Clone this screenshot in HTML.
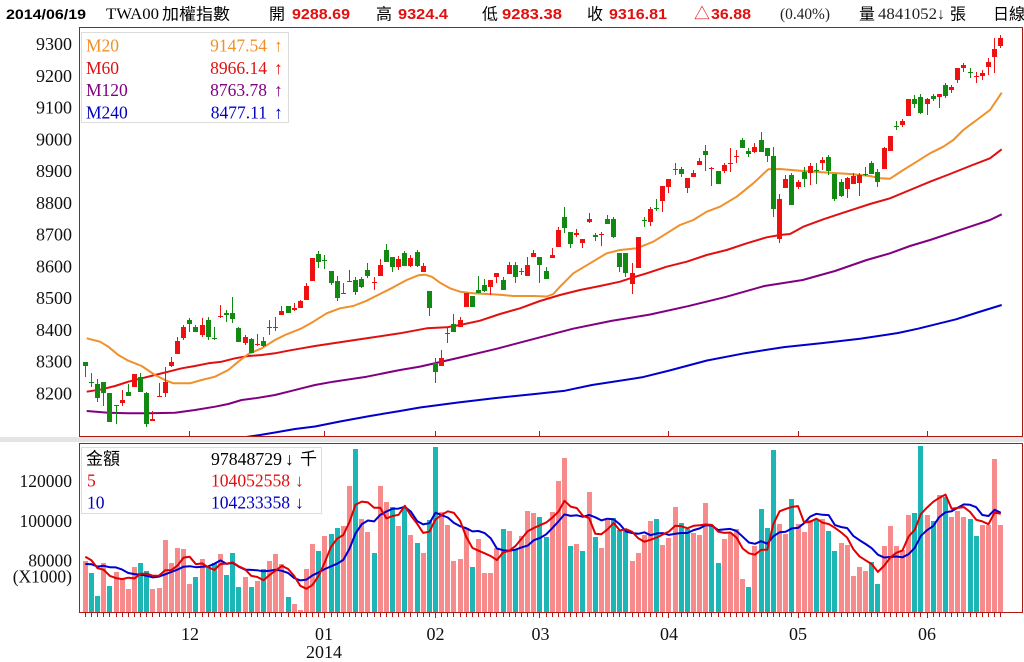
<!DOCTYPE html>
<html><head><meta charset="utf-8">
<style>
html,body{margin:0;padding:0;background:#fff;}
svg{display:block;}
.s{font-family:"Liberation Serif","Noto Serif CJK SC",serif;}
.b{font-family:"Liberation Sans","Noto Sans CJK TC",sans-serif;font-weight:bold;}
.c{font-family:"Liberation Sans","Noto Sans CJK TC",sans-serif;}
</style></head>
<body>
<svg id="s" width="1024" height="662" xmlns="http://www.w3.org/2000/svg">
<defs>
<clipPath id="cm"><rect x="80" y="28" width="942" height="408"/></clipPath>
<clipPath id="cv"><rect x="80" y="444" width="942" height="168"/></clipPath>
</defs>
<rect x="0" y="0" width="1024" height="662" fill="#fff"/>
<!-- header -->
<text x="6" y="19" class="b" font-size="14" textLength="80" lengthAdjust="spacingAndGlyphs" fill="#000">2014/06/19</text>
<text x="106" y="19" class="s" font-size="16" textLength="53" lengthAdjust="spacingAndGlyphs" fill="#000">TWA00</text>
<text x="162" y="19.5" class="c" font-size="16" textLength="68" lengthAdjust="spacingAndGlyphs" fill="#000">加權指數</text>
<text x="269" y="19.5" class="c" font-size="16" fill="#000">開</text>
<text x="292" y="19" class="b" font-size="15" textLength="58" lengthAdjust="spacingAndGlyphs" fill="#e01010">9288.69</text>
<text x="376" y="19.5" class="c" font-size="16" fill="#000">高</text>
<text x="398" y="19" class="b" font-size="15" textLength="50" lengthAdjust="spacingAndGlyphs" fill="#e01010">9324.4</text>
<text x="482" y="19.5" class="c" font-size="16" fill="#000">低</text>
<text x="502" y="19" class="b" font-size="15" textLength="60" lengthAdjust="spacingAndGlyphs" fill="#e01010">9283.38</text>
<text x="587" y="19.5" class="c" font-size="16" fill="#000">收</text>
<text x="609" y="19" class="b" font-size="15" textLength="58" lengthAdjust="spacingAndGlyphs" fill="#e01010">9316.81</text>
<text x="694" y="19" class="c" font-size="16" fill="#e01010">△</text>
<text x="711" y="19" class="b" font-size="15" textLength="40" lengthAdjust="spacingAndGlyphs" fill="#e01010">36.88</text>
<text x="780" y="19" class="s" font-size="16" textLength="50" lengthAdjust="spacingAndGlyphs" fill="#222">(0.40%)</text>
<text x="859" y="19.5" class="c" font-size="16" fill="#000">量</text>
<text x="878" y="19" class="s" font-size="16" textLength="59" lengthAdjust="spacingAndGlyphs" fill="#222">4841052</text>
<text x="937" y="19" class="s" font-size="16" fill="#222">↓</text>
<text x="950" y="19.5" class="c" font-size="16" fill="#000">張</text>
<text x="993" y="19.5" class="c" font-size="16" fill="#000">日線</text>

<!-- gray band -->
<rect x="0" y="437" width="1024" height="5" fill="#e4e4e4"/>

<!-- main y labels -->
<g class="s" font-size="18" text-anchor="end" fill="#111">
<text x="72" y="50">9300</text>
<text x="72" y="81.8">9200</text>
<text x="72" y="113.5">9100</text>
<text x="72" y="145.3">9000</text>
<text x="72" y="177">8900</text>
<text x="72" y="208.8">8800</text>
<text x="72" y="240.5">8700</text>
<text x="72" y="272.3">8600</text>
<text x="72" y="304">8500</text>
<text x="72" y="335.8">8400</text>
<text x="72" y="367.5">8300</text>
<text x="72" y="399.3">8200</text>
</g>
<!-- volume y labels -->
<g class="s" font-size="17.5" text-anchor="end" fill="#111">
<text x="72" y="487">120000</text>
<text x="72" y="527">100000</text>
<text x="72" y="566.5">80000</text>
<text x="72" y="582.5">(X1000)</text>
</g>
<!-- x labels -->
<g class="s" font-size="18" text-anchor="middle" fill="#111">
<text x="190" y="640">12</text>
<text x="324" y="640">01</text>
<text x="324" y="658">2014</text>
<text x="435.5" y="640">02</text>
<text x="540.5" y="640">03</text>
<text x="669" y="640">04</text>
<text x="798" y="640">05</text>
<text x="927" y="640">06</text>
</g>

<g id="ma" clip-path="url(#cm)" fill="none" stroke-width="2" stroke-linejoin="round"></g>
<g id="cand" shape-rendering="crispEdges"></g>
<g id="vol" shape-rendering="crispEdges"></g>
<g id="vma" clip-path="url(#cv)" fill="none" stroke-width="2" stroke-linejoin="round"></g>
<g id="tk" shape-rendering="crispEdges"></g>

<!-- panel borders -->
<g shape-rendering="crispEdges" fill="none" stroke="#b01818" stroke-width="1">
<rect x="79.5" y="27.5" width="943" height="409"/>
<rect x="79.5" y="443.5" width="943" height="169"/>
</g>

<!-- main legend -->
<rect x="81.5" y="32.5" width="207" height="90" fill="#fff" stroke="#dcdcdc" shape-rendering="crispEdges"/>
<g class="s" font-size="17.5">
<text x="86" y="51.5" fill="#f0902a">M20</text>
<text x="267" y="51.5" text-anchor="end" fill="#f0902a">9147.54</text>
<text x="274" y="51.5" fill="#f0902a">↑</text>
<text x="86" y="73.8" fill="#e01010">M60</text>
<text x="267" y="73.8" text-anchor="end" fill="#e01010">8966.14</text>
<text x="274" y="73.8" fill="#e01010">↑</text>
<text x="86" y="96.1" fill="#800080">M120</text>
<text x="267" y="96.1" text-anchor="end" fill="#800080">8763.78</text>
<text x="274" y="96.1" fill="#800080">↑</text>
<text x="86" y="118.4" fill="#0000c0">M240</text>
<text x="267" y="118.4" text-anchor="end" fill="#0000c0">8477.11</text>
<text x="274" y="118.4" fill="#0000c0">↑</text>
</g>

<!-- volume legend -->
<rect x="81.5" y="447.5" width="240" height="66" fill="#fff" fill-opacity="0.85" stroke="#dcdcdc" shape-rendering="crispEdges"/>
<g font-size="17.5">
<text x="86" y="464.5" class="c" font-size="17" fill="#000">金額</text>
<text x="211" y="465" class="s" textLength="71" lengthAdjust="spacingAndGlyphs" fill="#000">97848729</text>
<text x="285" y="465" class="s" fill="#000">↓</text>
<text x="300" y="464.5" class="c" font-size="17" fill="#000">千</text>
<text x="87" y="486.5" class="s" fill="#e01010">5</text>
<text x="211" y="486.5" class="s" textLength="79" lengthAdjust="spacingAndGlyphs" fill="#e01010">104052558</text>
<text x="295" y="486.5" class="s" fill="#e01010">↓</text>
<text x="87" y="508.3" class="s" fill="#0000c0">10</text>
<text x="211" y="508.3" class="s" textLength="79" lengthAdjust="spacingAndGlyphs" fill="#0000c0">104233358</text>
<text x="295" y="508.3" class="s" fill="#0000c0">↓</text>
</g>
</svg>
<script>
(function(){
var NS='http://www.w3.org/2000/svg';
function el(p,tag,a){var e=document.createElementNS(NS,tag);for(var k in a)e.setAttribute(k,a[k]);p.appendChild(e);return e;}
function X(i){return 85.3+6.144*i;}
var C=[
362.3,365.7,362.3,376.7, 381.7,383.3,372.7,386.7, 384,397.7,379.3,402.3, 382.3,393.3,382.3,405.7, 393.3,422.3,393.3,422.3,
405,406,404.7,424.3, 400,403.3,390,406, 392,395.7,384,395.7, 374,387.3,374,387.3, 377.3,391.7,373.3,391.7,
393.3,424,391.7,426.7, 418.7,421.3,411,421.3, 396,397,383.3,397, 381.7,392.7,366.7,396.7, 361.7,365.7,356.7,367.3,
341,354.3,336.7,354.3, 327.3,337.7,325,340, 320,324.3,318.3,331.7, 327.3,331.7,325,331.7, 324.7,335.3,318.3,336.7,
320,336.7,317.3,340, 338,339,326.7,340, 315.5,316.5,305,318.3, 312.7,315.3,310,321.7, 313.3,319,297.3,323.3,
327.7,341.7,326.7,341.7, 337.3,343.3,335,345, 339.3,352.7,338.3,353.3, 344,345,334,346, 341,345.7,337.3,347.3,
326.5,327.5,320,335.3, 326.5,327.5,317.3,330.7, 311.3,315.3,306,315.3, 306,312.7,306,312.7, 308.3,310,303.3,310.7,
301.3,307.7,300,307.7, 286,300,283.3,300, 258.3,280.7,258.3,280.7, 254.3,262,251,267.7, 259.5,260.5,255,269.3,
271,283.3,271,285, 281,297.7,276,300.7, 293,294,283.3,294, 280.5,281.5,270,282, 280,292,276.7,295.3,
279.3,287.3,276.7,288.3, 270,276,263.3,278.3, 281.5,282.5,276.7,290, 265,276,259.3,276, 250,261.7,244,261.7,
257.3,266.7,257.3,271.7, 259.3,266.7,256,270, 253.3,265.7,250.7,265.7, 258.3,266,255,266.7, 251.7,266,250,267.3,
266,271.7,263.3,271.7, 291,308.3,291,315.7, 363.3,371.7,357.7,382.7, 358.3,365.7,350,365.7, 332.5,333.5,326.7,342.7,
324,331.7,314,331.7, 320,326.7,316.7,327.3, 293.3,306.7,293.3,306.7, 296,307.3,296,307.3, 290,292.7,276,292.7,
285,290.7,279.3,291.7, 280,287.3,280,295, 273.3,276.7,273.3,283.3, 280,290,276.7,290, 265,274,261.7,274,
265,277.3,261.7,283.3, 271,272,268.3,275, 265,276,257.3,276, 252.7,256.7,250,257.3, 257.3,265,257.3,282.7,
270.7,279.3,267.3,279.3, 255,258.3,248.3,258.3, 230,246.5,227.3,246.5, 216.7,228.3,206.7,233.3, 231.7,244,231.7,248.3,
232.7,235.3,229.3,236.7, 239,242.7,239,248.3, 218.7,221.7,212.7,222.7, 235.3,237.3,233.3,240.7, 234,235,231.7,246,
219.3,224,215.3,224, 219.3,236.7,216.7,238.3, 253.3,266.7,253.3,271.7, 252.7,273.3,252.7,276.7, 273.3,284,263.3,294,
237.3,268.3,237.3,268.3, 220.2,221.2,216.7,227.3, 209.3,221.7,207.3,226, 207.5,208.5,198.7,211.3, 186,200.7,186,211.7,
179.3,186.7,179.3,193.3, 169,170,162.7,175, 169.3,174,166.7,177.3, 178.3,188.3,178.3,192.7, 172.7,176.7,170,177.3,
160.7,165.3,158.3,165.3, 150.7,155,145,170.7, 168,169,167.3,186, 170.7,184,170.7,184, 165,170.7,163.3,173.3,
162.5,163.5,148.3,171.7, 155.5,156.5,150,162.7, 140,148.3,138.3,148.3, 150.7,154,148.3,156.7, 147.3,151.7,142.7,152.7,
140,151.7,131.7,151.7, 148,156,148,161.7, 156,209.3,147.3,216.7, 199.3,239.3,194,242.7, 179.3,188,175,188,
175,204.7,173.3,205, 181.7,187.3,180,189.3, 171.7,179.3,167.3,187.3, 166,173.3,162.7,185, 169.5,170.5,163.3,184,
160,162.7,157.3,170, 156.7,170.7,155.3,175, 174,199.3,174,200.7, 181.7,196,179.3,197.3, 178.3,189.3,176.7,198.3,
176,184,173.3,184, 175.3,183.3,172.7,196, 173.5,174.5,166.7,176, 163.3,174,160.7,174, 171.7,181.7,169.3,186.7,
148.3,169.3,147.3,169.3, 136,150.7,136,150.7, 125.5,126.5,120.7,130, 120.7,125,119.3,126.7, 99.3,116,99.3,116,
98.7,104,95.3,108.3, 96.7,113.3,94,114, 99.3,104,98.3,115, 96,99.3,94,100.7, 94,97.3,94,108.3,
85,96,83.3,98.3, 87.3,90,85,93.3, 68.3,80,68.3,83.3, 65,68.3,63.3,71.7, 72.2,73.2,68.3,78.3,
75.5,76.5,71.7,83.3, 73.3,76,70,80, 61.7,67.3,58.3,75, 49.3,56.7,38.3,72.7, 38.3,46,35,48.3];
var CC="ggggggrgrg"+"grrrrrrggr"+"ggrgggrgrg"+"rrrgrrrrgg"+"gggrgggrrg"+"grgrgrggrr"+"grrgggrrgr"+"ggrrggrrgg"+"rrrgrggggr"+"rgrgrrggrr"+"rgrgrrrggr"+"gggrrgrgrg"+"rgggrrrggg"+"rrgrrggrgr"+"grrrgrrrrr";
var V=[561,573,596,563.3,586,572,578,589,567,563,
571,589,588,540,563,548,549,584,577,559,
567,563,554,575,553,587,577,587,581,569,
561,554,564,597,604,610,569,544,551,536,
534,528,526,486,449,519,532,553,486,502,
507,526,508,535,542.7,552.7,520,447.3,511.7,525,
560.7,559.3,528,566.7,539,573.3,573.3,548,528.7,530.7,
550,536,510.7,512.7,516.7,536.7,511.7,480.7,458,546,
544,550.7,491.7,536.7,547.7,520,518.3,530,530,560.7,
552.7,535,520.7,519,545,537.7,506.7,522.7,529.3,532.7,
535,502.7,525,562.7,539.3,532.7,529.3,578.7,586.7,546,
508.7,528,450,524,534,498.7,524,532,520,518.7,
518.7,530.7,550.7,542.7,545.3,576,566.7,570.7,562,584,
546,526,546,550,514.7,512.7,446,514.7,520.7,494.7,
496.7,516.7,510.7,516.7,518.7,536,524.7,524.7,458.7,524.7];
var VC="pttptppppt"+"tppppppptp"+"ttptttptpt"+"ppptpppptp"+"ttpptpptpp"+"tptptpttpp"+"ppptpppptp"+"tpppttpppt"+"ptptpptttp"+"ppptpppttp"+"ppttpppptp"+"tttpptpppt"+"pttppppptt"+"pppppttptp"+"tpppttpppp";

var gc=document.getElementById('cand'), gv=document.getElementById('vol'), gt=document.getElementById('tk');
for(var i=0;i<150;i++){
  var xc=X(i), l=Math.round(xc-2.5);
  var col=CC.charAt(i)=='r'?'#ee1111':'#128a12';
  var t=C[4*i],b=C[4*i+1],h=C[4*i+2],lo=C[4*i+3];
  var hy=Math.round(h), ly=Math.round(lo);
  el(gc,'rect',{x:l+2,y:hy,width:1,height:Math.max(1,ly-hy),fill:col});
  var bt=Math.round(t), bb=Math.round(b); if(bb-bt<1) bb=bt+1;
  el(gc,'rect',{x:l,y:bt,width:5,height:bb-bt,fill:col});
  var vt=Math.round(V[i]);
  el(gv,'rect',{x:l,y:vt,width:5,height:612-vt,fill:VC.charAt(i)=='p'?'#f78a8a':'#1cb6b6'});
  el(gt,'rect',{x:l+2,y:613,width:1,height:4,fill:'#b01818'});
}
[17,39,57,74,95,116,137].forEach(function(i){
  var l=Math.round(X(i)-2.5);
  el(gt,'rect',{x:l+2,y:431,width:1,height:5,fill:'#b01818'});
  el(gt,'rect',{x:l+2,y:613,width:1,height:5,fill:'#b01818'});
});

var gm=document.getElementById('ma');
function pl(p,pts,col){el(p,'polyline',{points:pts,stroke:col});}
pl(gm,"246,437 260,435 275,432.5 295,429 315,426.5 340,421.5 370,416 400,411 420,407.5 458,402.5 496,398 535,394 565,390.7 592,385 642,377.3 669,370.6 707,360.5 745,353.2 784,347.1 822,343.1 860,338.7 898,333 918,328.7 956,319.3 979,312 1001.7,305","#0000cc");
pl(gm,"86.7,411 108.3,412.7 128.3,413.3 148.3,413.3 175,412.7 195,410 215,406.7 228.3,404 241.7,400 255,398.3 275,395 288.3,391.7 301.7,388.3 315,385 333.3,381.7 366.7,376.7 400,370 420,366.6 458.3,357.9 496.5,348.8 534.8,338.7 573.1,328.7 611.4,320.9 649.6,314.6 687.9,306.2 726.2,296.8 764.4,286 802.7,280 835,271 866.7,260 890,253.3 910,246 930,240 950,233.3 970,226.7 990,220 1001.7,214.3","#800080");
pl(gm,"86.7,391.7 101.7,389.3 115,386 128.3,381.7 141.7,378.3 155,375 168.3,371.7 181.7,368.3 195,366 208.3,363.3 221.7,361.7 235,358.3 248.3,356 261.7,355 275,353.3 288.3,350.7 301.7,348.3 315,346 333.3,343.3 366.7,338.3 400,333.3 426.7,328.3 446.7,327.3 460,325 480,320.7 500,314 520,308.3 540,301 560,295 580,290 600,286 620,281.7 633.3,277.3 646.7,273.3 666.7,266.7 686.7,261.7 706.7,255 726.7,250 746.7,243.3 766.7,237.3 780,235 790,234 803.3,226.7 823.3,219.3 843.3,212.7 870,204 890,198.3 910,190 930,181.7 950,174 970,166 990,158.3 1001.7,149.3","#e01010");
pl(gm,"86.7,338.3 100,341.7 108.3,346.7 118.3,355 128.3,360.7 141.7,366 155,375 165,380 173.3,383.3 190,383.3 201.7,380 215,376.7 228.3,370 238.3,361.7 248.3,354 261.7,348.3 275,340 285,335 301.7,328.3 313.3,321.7 326.7,313.3 340,308.3 353.3,306 366.7,300.7 380,294 393.3,287.3 406.7,280 418.3,275.3 425,274.7 431.7,276.7 440,282.7 450,288.3 460,291.7 473.3,293.3 486.7,294 500,294.7 513.3,296 533.3,296 546.7,296.5 553.3,294 560,286.7 573.3,273.3 590,263.3 606.7,253.3 620,250 636.7,248.3 653.3,241.7 666.7,233.3 680,225 693.3,220 706.7,211.7 720,206.7 736.7,196.7 753.3,183.3 768.3,169.3 780,169 800,170.7 830,172.7 850,174 870,176 880,178.3 890,178.7 903.3,170 916.7,161.7 930,153.3 943.3,146.7 953.3,140 963.3,130 976.7,120 990,110 1001.7,92.7","#f0902a");

var pre=[571.3,571.3,571.3,571.3,571.3,555.6,555.6,555.6,555.6];
var A=pre.concat(V);
function ma(n){var pts=[];for(var i=0;i<150;i++){var s=0;for(var k=0;k<n;k++)s+=A[i+9-k];pts.push(X(i).toFixed(1)+','+(s/n).toFixed(1));}return pts.join(' ');}
var gvm=document.getElementById('vma');
pl(gvm,ma(10),"#0000d0");
pl(gvm,ma(5),"#e00000");
})();
</script>
</body></html>
